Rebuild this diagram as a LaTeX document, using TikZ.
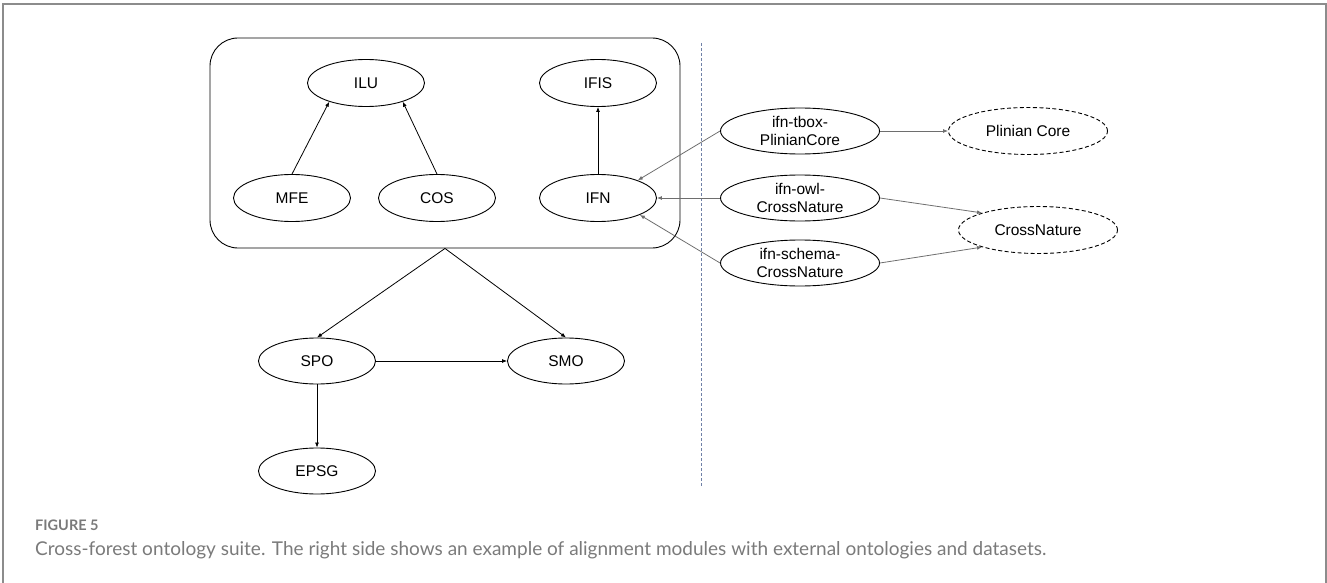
\documentclass[tikz,border=0pt]{standalone}
\usepackage{fontspec}
\setmainfont{Liberation Sans}
\newfontfamily\capfont{Lato}
\usetikzlibrary{arrows.meta,shapes.geometric}
\definecolor{framegray}{HTML}{8C8C8C}
\definecolor{linkgray}{HTML}{6E6E6E}
\definecolor{divider}{HTML}{6F80A6}
\definecolor{captiongray}{HTML}{7A7A7A}
\begin{document}
\begin{tikzpicture}[x=1pt,y=-1pt,
  module/.style={draw, ellipse, line width=0.9pt, inner sep=0pt,
    minimum width=117pt, minimum height=47pt, align=center,
    font=\fontsize{15.5}{18}\selectfont},
  alignmod/.style={module, minimum width=159pt, minimum height=46pt},
  external/.style={module, minimum width=159pt, minimum height=47pt,
    dash pattern=on 4pt off 2.5pt},
  link/.style={line width=0.8pt, -{Latex[length=5pt,width=4pt]}},
  graylink/.style={link, draw=linkgray},
]
\useasboundingbox (0,0) rectangle (1327,583);

% frame, open at the bottom
\draw[framegray, line width=2pt] (3,583) -- (3,4) -- (1325.5,4) -- (1325.5,583);

% suite container
\node[draw, line width=0.9pt, rounded corners=28pt, minimum width=470pt,
  minimum height=210pt, inner sep=0pt] (suite) at (445,143) {};

% modules inside the suite
\node[module] (ILU)  at (366,83)  {ILU};
\node[module] (IFIS) at (598,83)  {IFIS};
\node[module] (MFE)  at (292,198) {MFE};
\node[module] (COS)  at (437,198) {COS};
\node[module] (IFN)  at (598,198) {IFN};

% modules below the suite
\node[module, minimum height=46pt] (SPO)  at (317,361) {SPO};
\node[module, minimum height=46pt] (SMO)  at (566,361) {SMO};
\node[module, minimum height=46pt] (EPSG) at (317,471) {EPSG};

% alignment modules
\node[alignmod] (tbox)   at (800,131) {ifn-tbox-\\PlinianCore};
\node[alignmod] (owl)    at (800,198) {ifn-owl-\\CrossNature};
\node[alignmod] (schema) at (800,263) {ifn-schema-\\CrossNature};

% external ontologies and datasets
\node[external] (plinian) at (1028,131) {Plinian Core};
\node[external] (cross)   at (1038,230) {CrossNature};

% divider
\coordinate (divtop) at (701,43);
\coordinate (divbot) at (701,487);
\draw[divider, line width=0.9pt, dash pattern=on 3pt off 2pt] (divtop) -- (divbot);

% imports inside the suite
\draw[link] (MFE.north) -- (ILU.207);
\draw[link] (COS.north) -- (ILU.333);
\draw[link] (IFN.north) -- (IFIS.south);

% suite dependencies
\draw[link] (suite.south) -- (SPO.north);
\draw[link] (suite.south) -- (SMO.north);
\draw[link] (SPO.east) -- (SMO.west);
\draw[link] (SPO.south) -- (EPSG.north);

% alignment links
\draw[graylink] (tbox.west) -- (IFN.24);
\draw[graylink] (owl.west) -- (IFN.east);
\draw[graylink] (schema.west) -- (IFN.338);
\draw[graylink] (tbox.east) -- (plinian.west);
\draw[graylink] (owl.east) -- (cross.163);
\draw[graylink] (schema.east) -- (cross.197);

% caption
\node[anchor=base west, inner sep=0pt, text=captiongray,
  font=\capfont\bfseries\fontsize{14.5}{17}\selectfont] (fig) at (35,530) {FIGURE 5};
\node[anchor=base west, inner sep=0pt, text=captiongray,
  font=\capfont\fontsize{19}{22}\selectfont] (cap) at (35,555)
  {Cross-forest ontology suite. The right side shows an example of alignment modules with external ontologies and datasets.};
\end{tikzpicture}
\end{document}
